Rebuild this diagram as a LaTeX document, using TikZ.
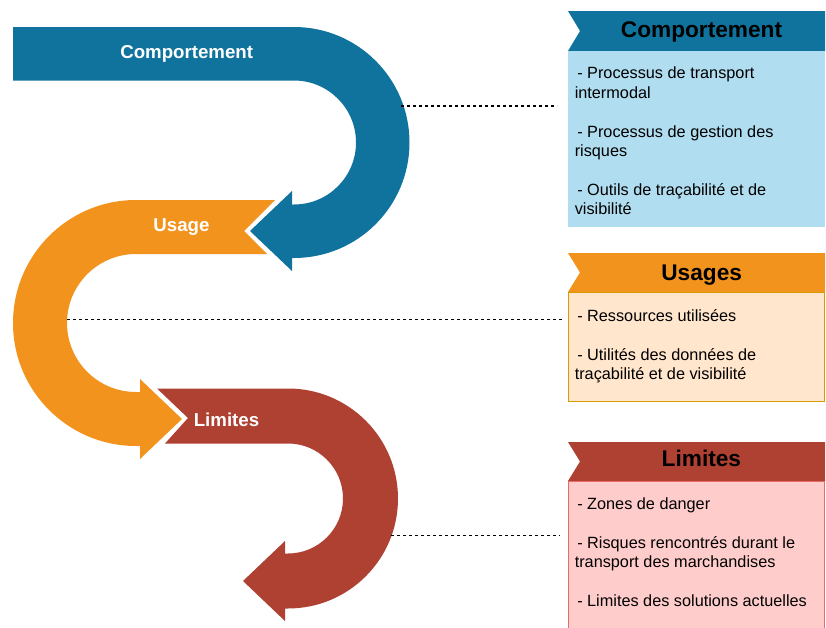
\documentclass[tikz,border=0pt]{standalone}
\usepackage{fontspec}
\setmainfont{Liberation Sans}
\definecolor{cblue}{HTML}{10739E}
\definecolor{lblue}{HTML}{B1DDF0}
\definecolor{corange}{HTML}{F2931E}
\definecolor{lorange}{HTML}{FFE6CC}
\definecolor{borange}{HTML}{D79B00}
\definecolor{cred}{HTML}{AE4132}
\definecolor{lred}{HTML}{FFCCCC}
\definecolor{bred}{HTML}{EA6B66}
\begin{document}
\begin{tikzpicture}[x=0.75pt,y=-0.75pt,
  lbl/.style={text=white,font=\fontsize{14}{16}\selectfont\bfseries,anchor=base,inner sep=0pt},
  hdr/.style={text=black,font=\fontsize{17}{19}\selectfont\bfseries,anchor=base,inner sep=0pt},
  item/.style={text=black,font=\fontsize{12.2}{14}\selectfont,anchor=base west,inner sep=0pt},
  link/.style={draw=black,line width=0.8pt,dash pattern=on 2.25pt off 2.25pt}]
\useasboundingbox (0,0) rectangle (826,628);

% S-shaped arrows
\fill[cblue] (13,27) -- (294,27) arc[start angle=-90,end angle=90,radius=115.5]
  -- (292,258) -- (292,271) -- (250,231) -- (292,191) -- (292,204.5) -- (294,204.5)
  arc[start angle=90,end angle=-90,radius=62] -- (13,80.5) -- cycle;
\fill[corange] (275,200) -- (136,200) arc[start angle=270,end angle=90,radius=123]
  -- (140,446) -- (140,459) -- (182,419) -- (140,379) -- (140,392) -- (136,392)
  arc[start angle=90,end angle=270,radius=69] -- (267,254) -- (244,231) -- cycle;
\fill[cred] (157,388.5) -- (288,388.5) arc[start angle=-90,end angle=90,radius=110]
  -- (285,608.5) -- (285,621) -- (243,581) -- (285,541) -- (285,553.5) -- (288,553.5)
  arc[start angle=90,end angle=-90,radius=55] -- (165,443.5) -- (188,418) -- cycle;

\node[lbl] (lcomp) at (186.7,58.3) {Comportement};
\node[lbl] (lusage) at (181.5,231) {Usage};
\node[lbl] (llim) at (226.5,426.7) {Limites};

% right boxes
\fill[cblue] (568,11) -- (825,11) -- (825,51) -- (568,51) -- (580,31) -- cycle;
\fill[lblue] (568,51) rectangle (825,227);
\fill[corange] (568,253) -- (825,253) -- (825,292) -- (568,292) -- (580,272.5) -- cycle;
\filldraw[fill=lorange,draw=borange,line width=0.75pt] (568.5,292) rectangle (824.5,401);
\fill[cred] (568,442) -- (825,442) -- (825,481) -- (568,481) -- (580,461.5) -- cycle;
\fill[lred] (568,481) rectangle (825,628);
\draw[bred,line width=0.75pt] (568.5,630) -- (568.5,481.5) -- (824.5,481.5) -- (824.5,630);

\node[hdr] (hcomp) at (701.5,37.3) {Comportement};
\node[hdr] (husage) at (701.7,280) {Usages};
\node[hdr] (hlim) at (701.4,466) {Limites};

\node[item] (c1) at (577,79) {- Processus de transport};
\node[item] (c1b) at (574.5,98.4) {intermodal};
\node[item] (c2) at (577,137.2) {- Processus de gestion des};
\node[item] (c2b) at (574.5,156.6) {risques};
\node[item] (c3) at (577,195.4) {- Outils de traçabilité et de};
\node[item] (c3b) at (574.5,214.8) {visibilité};

\node[item] (u1) at (577,321) {- Ressources utilisées};
\node[item] (u2) at (577,360) {- Utilités des données de};
\node[item] (u2b) at (574.5,379.4) {traçabilité et de visibilité};

\node[item] (m1) at (577,509) {- Zones de danger};
\node[item] (m2) at (577,548) {- Risques rencontrés durant le};
\node[item] (m2b) at (574.5,567.4) {transport des marchandises};
\node[item] (m3) at (577,606.2) {- Limites des solutions actuelles};

% dashed connectors
\coordinate (d1a) at (401,106);
\coordinate (d1b) at (557,106);
\coordinate (d2a) at (67,319.5);
\coordinate (d2b) at (563,319.5);
\coordinate (d3a) at (391,535.5);
\coordinate (d3b) at (560,535.5);
\draw[link] (d1a) -- (d1b);
\draw[link] (d2a) -- (d2b);
\draw[link] (d3a) -- (d3b);
\end{tikzpicture}
\end{document}
